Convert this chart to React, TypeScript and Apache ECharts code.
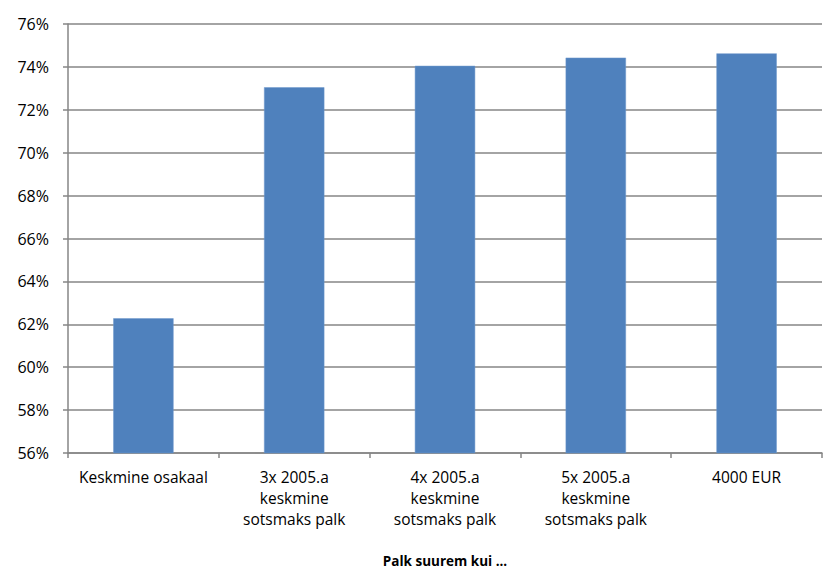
import React, { useEffect, useRef } from "react";
import * as echarts from "echarts";

const categories = [
  "Keskmine osakaal",
  "3x 2005.a\nkeskmine\nsotsmaks palk",
  "4x 2005.a\nkeskmine\nsotsmaks palk",
  "5x 2005.a\nkeskmine\nsotsmaks palk",
  "4000 EUR",
];
const values = [62.28, 73.05, 74.05, 74.43, 74.63];
const xAxisTitle = "Palk suurem kui ...";

export default function App() {
  const ref = useRef<HTMLDivElement>(null);
  useEffect(() => {
    if (!ref.current) return;
    const chart = echarts.init(ref.current, null, { renderer: "svg" });
    const font = "'Open Sans', 'Noto Sans', sans-serif";
    chart.setOption({
      animation: false,
      backgroundColor: "#ffffff",
      grid: { left: 68, right: 6, top: 24, bottom: 120, containLabel: false },
      xAxis: {
        type: "category",
        data: categories,
        name: xAxisTitle,
        nameLocation: "middle",
        nameGap: 101,
        nameTextStyle: { fontFamily: font, fontSize: 13.5, fontWeight: "bold", color: "#000" },
        axisLine: { lineStyle: { color: "#868686", width: 1.5 } },
        axisTick: { show: true, alignWithLabel: false, length: 5, lineStyle: { color: "#868686", width: 1.5 } },
        axisLabel: {
          interval: 0,
          margin: 13,
          fontFamily: font,
          fontSize: 15.5,
          lineHeight: 21,
          color: "#000",
          align: "center",
        },
      },
      yAxis: {
        type: "value",
        min: 56,
        max: 76,
        interval: 2,
        axisLine: { show: true, lineStyle: { color: "#868686", width: 1.5 } },
        axisTick: { show: true, length: 5, lineStyle: { color: "#868686", width: 1.5 } },
        splitLine: { show: true, lineStyle: { color: "#868686", width: 1.5 } },
        axisLabel: {
          margin: 19,
          fontFamily: font,
          fontSize: 16,
          color: "#000",
          formatter: (v: number) => v + "%",
        },
      },
      series: [
        {
          type: "bar",
          data: values,
          barWidth: "40%",
          itemStyle: { color: "#4F81BD", borderColor: "#6E98CC", borderWidth: 0.5 },
        },
      ],
    });
    return () => chart.dispose();
  }, []);
  return <div ref={ref} style={{ width: 828, height: 573, position: "absolute", left: 0, top: 0 }} />;
}
